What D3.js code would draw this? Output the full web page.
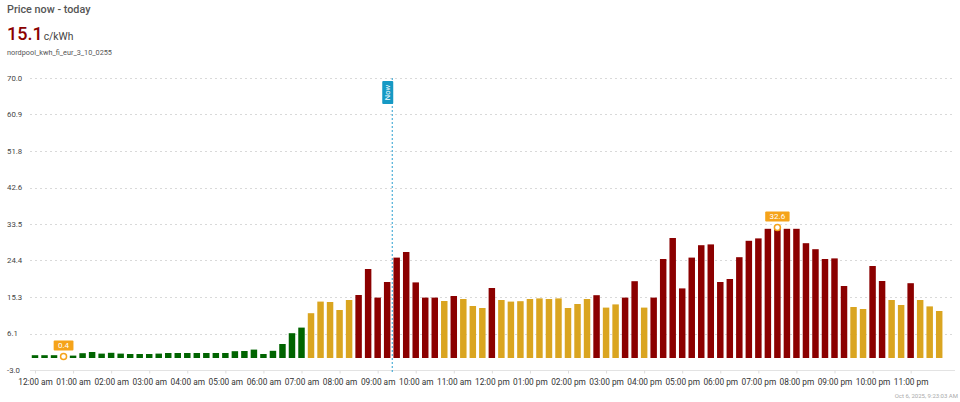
<!DOCTYPE html>
<html>
<head>
<meta charset="utf-8">
<script src="https://cdn.jsdelivr.net/npm/d3@7"></script>
<style>
  html, body { margin: 0; padding: 0; background: #fff; }
  svg { display: block; font-family: Roboto, "Liberation Sans", Arial, sans-serif; }
</style>
</head>
<body>
<svg id="chart" width="960" height="402"></svg>
<script>
// ---- data ----
const title = "Price now - today";
const currentPrice = "15.1";
const unit = "c/kWh";
const entityId = "nordpool_kwh_fi_eur_3_10_0255";
const timestamp = "Oct 6, 2025, 9:23:03 AM";
const nowTime = [9, 23];

// 15-minute prices (c/kWh), 96 slots starting 00:00
const prices = [
  0.7, 0.7, 0.7, 0.4, 0.6, 1.2, 1.5, 1.1,
  1.3, 1.1, 1.0, 1.0, 1.0, 1.1, 1.25, 1.25,
  1.25, 1.25, 1.25, 1.25, 1.25, 1.7, 1.75, 2.1,
  1.0, 1.8, 3.5, 6.2, 7.6, 11.2, 14.1, 14.0,
  12.0, 14.5, 15.75, 22.25, 15.1, 19.0, 25.1, 26.5,
  18.9, 15.1, 15.1, 14.25, 15.5, 14.75, 13.0, 12.5,
  17.5, 14.5, 14.1, 14.2, 14.75, 14.9, 14.75, 14.9,
  12.5, 13.5, 14.75, 15.7, 12.6, 13.4, 15.1, 19.2,
  12.6, 15.1, 24.75, 30.0, 17.4, 25.1, 28.2, 28.4,
  19.0, 19.75, 25.2, 29.3, 29.9, 32.3, 32.6, 32.3,
  32.3, 28.7, 27.2, 24.75, 24.9, 18.0, 12.75, 12.25,
  23.0, 19.25, 14.5, 13.25, 18.7, 14.5, 12.9, 11.75
];
const yTickLabels = ["-3.0", "6.1", "15.3", "24.4", "33.5", "42.6", "51.8", "60.9", "70.0"];
const thresholds = [10, 15];
const levelColors = ["#006400", "#DAA520", "#8B0000"];

// ---- drawing ----
const svg = d3.select("#chart");
const day = new Date(2025, 9, 6, 0, 0, 0);
const slotTime = i => new Date(day.getTime() + i * 15 * 60 * 1000);

const x = d3.scaleTime()
  .domain([slotTime(0), slotTime(95)])
  .range([35, 939.2]);
const y = d3.scaleLinear()
  .domain([+yTickLabels[0], +yTickLabels[yTickLabels.length - 1]])
  .range([370, 78]);

const slotW = x(slotTime(1)) - x(slotTime(0));
const barW = slotW * 0.68;
const colorOf = v => v < thresholds[0] ? levelColors[0] : (v <= thresholds[1] ? levelColors[1] : levelColors[2]);

const gridX0 = 30, gridX1 = 955;

// gridlines
svg.append("g").selectAll("line").data(yTickLabels.slice(1)).join("line")
  .attr("x1", gridX0).attr("x2", gridX1)
  .attr("y1", d => Math.round(y(+d)) + 0.5).attr("y2", d => Math.round(y(+d)) + 0.5)
  .attr("stroke", "#d9d9d9").attr("stroke-width", 1)
  .attr("stroke-dasharray", "2,3");

// y labels
svg.append("g").selectAll("text").data(yTickLabels).join("text")
  .attr("x", 7).attr("y", d => y(+d))
  .attr("dy", "0.35em")
  .attr("font-size", 7.8).attr("fill", "#444")
  .text(d => d);

// bars
const zeroY = y(0);
svg.append("g").selectAll("rect").data(prices).join("rect")
  .attr("x", (d, i) => x(slotTime(i)) - barW / 2)
  .attr("width", barW)
  .attr("y", d => Math.min(y(d), zeroY))
  .attr("height", d => Math.abs(zeroY - y(d)))
  .attr("fill", d => colorOf(d));

// baseline axis
svg.append("line")
  .attr("x1", gridX0).attr("x2", gridX1)
  .attr("y1", Math.round(y(+yTickLabels[0])) + 0.5).attr("y2", Math.round(y(+yTickLabels[0])) + 0.5)
  .attr("stroke", "#e3e3e3");

const fmt = d3.timeFormat("%I:%M %p");
const xAxis = d3.axisBottom(x)
  .ticks(d3.timeHour.every(1))
  .tickSize(3)
  .tickFormat(d => fmt(d).toLowerCase());
const gx = svg.append("g")
  .attr("transform", `translate(0,${Math.round(y(+yTickLabels[0])) + 0.5})`)
  .call(xAxis);
gx.select(".domain").remove();
gx.selectAll(".tick line").attr("stroke", "#ddd");
gx.selectAll(".tick text")
  .attr("font-size", 8.3).attr("fill", "#333")
  .attr("font-family", "Roboto, 'Liberation Sans', Arial, sans-serif")
  .attr("y", 8.5);

// now line
const nowDate = new Date(day.getTime() + (nowTime[0] * 60 + nowTime[1]) * 60000);
const nx = x(nowDate);
svg.append("line")
  .attr("x1", nx).attr("x2", nx)
  .attr("y1", 78).attr("y2", 372)
  .attr("stroke", "#2a9fd0").attr("stroke-width", 1)
  .attr("stroke-dasharray", "2,2");
svg.append("rect")
  .attr("x", nx - 10).attr("y", 81).attr("width", 11).attr("height", 23)
  .attr("fill", "#1699c4").attr("rx", 1);
svg.append("text")
  .attr("transform", `translate(${nx - 1.8},${92.5}) rotate(-90)`)
  .attr("text-anchor", "middle")
  .attr("font-size", 7.5).attr("fill", "#fff")
  .text("Now");

// min / max markers
const minI = d3.minIndex(prices), maxI = d3.maxIndex(prices);
const markerColor = "#F5A31A";
[minI, maxI].forEach(i => {
  const cx = x(slotTime(i)), cy = y(prices[i]);
  const label = d3.format(".1f")(prices[i]);
  const w = label.length * 4.6 + 6;
  svg.append("rect")
    .attr("x", cx - w / 2).attr("y", cy - 16).attr("width", w).attr("height", 10)
    .attr("fill", markerColor).attr("rx", 1);
  svg.append("text")
    .attr("x", cx).attr("y", cy - 8.3)
    .attr("text-anchor", "middle").attr("font-size", 8).attr("fill", "#fff")
    .text(label);
  svg.append("circle")
    .attr("cx", cx).attr("cy", cy).attr("r", 3)
    .attr("fill", "#fff").attr("stroke", markerColor).attr("stroke-width", 1.5);
});

// header
svg.append("text").attr("x", 7).attr("y", 13)
  .attr("font-size", 10.8).attr("font-weight", 500).attr("fill", "#555")
  .text(title);
const big = svg.append("text").attr("x", 7).attr("y", 39.5);
big.append("tspan").attr("font-size", 18).attr("font-weight", 500).attr("fill", "#8B0000").text(currentPrice);
big.append("tspan").attr("font-size", 10.3).attr("fill", "#444").attr("dx", 1).text(unit);
svg.append("text").attr("x", 7).attr("y", 54.5)
  .attr("font-size", 7.3).attr("fill", "#555")
  .text(entityId);

// timestamp
svg.append("text").attr("x", 958).attr("y", 398)
  .attr("text-anchor", "end").attr("font-size", 6).attr("fill", "#aaa")
  .text(timestamp);
</script>
</body>
</html>
